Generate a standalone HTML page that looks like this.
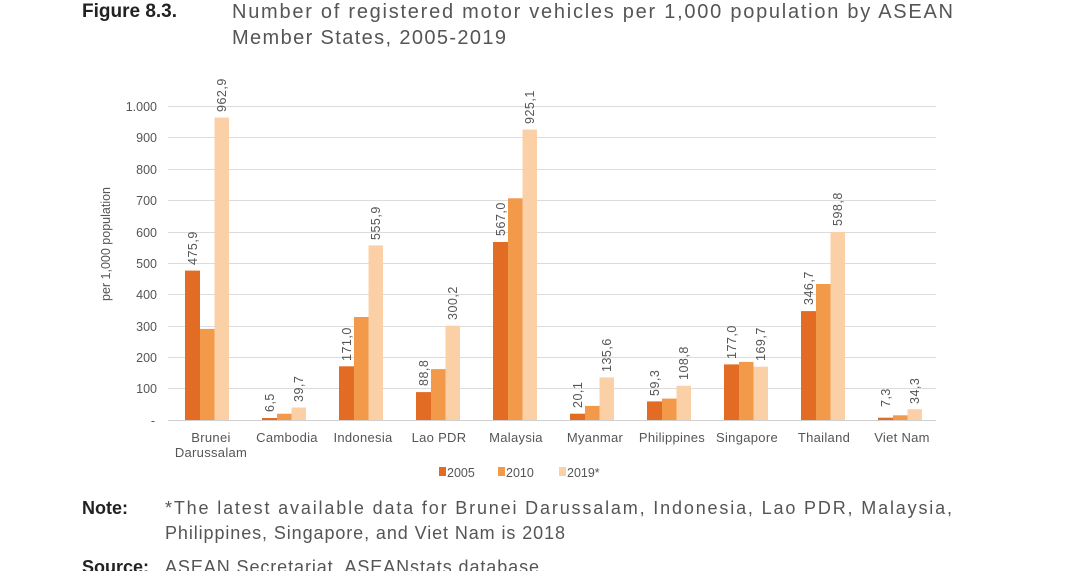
<!DOCTYPE html>
<html><head><meta charset="utf-8"><style>
body{margin:0;background:#fff;width:1065px;height:571px;overflow:hidden;font-family:"Liberation Sans",sans-serif}
svg text{font-family:"Liberation Sans",sans-serif}
</style></head><body>
<svg width="1065" height="571" viewBox="0 0 1065 571" xmlns="http://www.w3.org/2000/svg">
<text x="82" y="17" font-size="19" font-weight="bold" fill="#222">Figure 8.3.</text>
<text x="232" y="18" font-size="20" fill="#555" textLength="721" lengthAdjust="spacing">Number of registered motor vehicles per 1,000 population by ASEAN</text>
<text x="232" y="44" font-size="20" fill="#555" textLength="274" lengthAdjust="spacing">Member States, 2005-2019</text>
<g stroke="#dcdcdc" stroke-width="1">
<line x1="168" x2="936" y1="106.5" y2="106.5"/><line x1="168" x2="936" y1="137.5" y2="137.5"/>
<line x1="168" x2="936" y1="169.5" y2="169.5"/><line x1="168" x2="936" y1="200.5" y2="200.5"/>
<line x1="168" x2="936" y1="232.5" y2="232.5"/><line x1="168" x2="936" y1="263.5" y2="263.5"/>
<line x1="168" x2="936" y1="294.5" y2="294.5"/><line x1="168" x2="936" y1="326.5" y2="326.5"/>
<line x1="168" x2="936" y1="357.5" y2="357.5"/><line x1="168" x2="936" y1="388.5" y2="388.5"/>
<line x1="168" x2="936" y1="420.5" y2="420.5" stroke="#cfcfcf"/>
</g>
<g font-size="12.5" fill="#555" text-anchor="end">
<text x="157" y="111">1.000</text><text x="157" y="142">900</text><text x="157" y="174">800</text>
<text x="157" y="205">700</text><text x="157" y="237">600</text><text x="157" y="268">500</text>
<text x="157" y="299">400</text><text x="157" y="331">300</text><text x="157" y="362">200</text>
<text x="157" y="393">100</text><text x="155" y="425">-</text>
</g>
<text transform="translate(110,244) rotate(-90)" font-size="12.5" fill="#555" text-anchor="middle">per 1,000 population</text>
<g>
<rect x="185" y="270.6" width="15" height="149.4" fill="#E36C25"/><rect x="200" y="328.9" width="14.5" height="91.1" fill="#F39A4A"/><rect x="214.5" y="117.6" width="14.5" height="302.4" fill="#FBD0A6"/>
<rect x="262" y="418" width="15" height="2" fill="#E36C25"/><rect x="277" y="413.7" width="14.5" height="6.3" fill="#F39A4A"/><rect x="291.5" y="407.5" width="14.5" height="12.5" fill="#FBD0A6"/>
<rect x="339" y="366.3" width="15" height="53.7" fill="#E36C25"/><rect x="354" y="317" width="14.5" height="103" fill="#F39A4A"/><rect x="368.5" y="245.4" width="14.5" height="174.6" fill="#FBD0A6"/>
<rect x="416" y="392.1" width="15" height="27.9" fill="#E36C25"/><rect x="431" y="369.1" width="14.5" height="50.9" fill="#F39A4A"/><rect x="445.5" y="325.7" width="14.5" height="94.3" fill="#FBD0A6"/>
<rect x="493" y="242" width="15" height="178" fill="#E36C25"/><rect x="508" y="198.3" width="14.5" height="221.7" fill="#F39A4A"/><rect x="522.5" y="129.5" width="14.5" height="290.5" fill="#FBD0A6"/>
<rect x="570" y="413.7" width="15" height="6.3" fill="#E36C25"/><rect x="585" y="405.9" width="14.5" height="14.1" fill="#F39A4A"/><rect x="599.5" y="377.4" width="14.5" height="42.6" fill="#FBD0A6"/>
<rect x="647" y="401.4" width="15" height="18.6" fill="#E36C25"/><rect x="662" y="398.6" width="14.5" height="21.4" fill="#F39A4A"/><rect x="676.5" y="385.8" width="14.5" height="34.2" fill="#FBD0A6"/>
<rect x="724" y="364.4" width="15" height="55.6" fill="#E36C25"/><rect x="739" y="361.9" width="14.5" height="58.1" fill="#F39A4A"/><rect x="753.5" y="366.7" width="14.5" height="53.3" fill="#FBD0A6"/>
<rect x="801" y="311.1" width="15" height="108.9" fill="#E36C25"/><rect x="816" y="284" width="14.5" height="136" fill="#F39A4A"/><rect x="830.5" y="232" width="14.5" height="188" fill="#FBD0A6"/>
<rect x="878" y="417.7" width="15" height="2.3" fill="#E36C25"/><rect x="893" y="415.3" width="14.5" height="4.7" fill="#F39A4A"/><rect x="907.5" y="409.2" width="14.5" height="10.8" fill="#FBD0A6"/>
</g>
<g font-size="12.5" fill="#555" letter-spacing="0.5">
<text transform="translate(197,265) rotate(-90)">475,9</text>
<text transform="translate(226,112) rotate(-90)">962,9</text>
<text transform="translate(274,412) rotate(-90)">6,5</text>
<text transform="translate(303,402) rotate(-90)">39,7</text>
<text transform="translate(351,361) rotate(-90)">171,0</text>
<text transform="translate(380,240) rotate(-90)">555,9</text>
<text transform="translate(428,386) rotate(-90)">88,8</text>
<text transform="translate(457,320) rotate(-90)">300,2</text>
<text transform="translate(505,236) rotate(-90)">567,0</text>
<text transform="translate(534,124) rotate(-90)">925,1</text>
<text transform="translate(582,408) rotate(-90)">20,1</text>
<text transform="translate(611,372) rotate(-90)">135,6</text>
<text transform="translate(659,396) rotate(-90)">59,3</text>
<text transform="translate(688,380) rotate(-90)">108,8</text>
<text transform="translate(736,359) rotate(-90)">177,0</text>
<text transform="translate(765,361) rotate(-90)">169,7</text>
<text transform="translate(813,305) rotate(-90)">346,7</text>
<text transform="translate(842,226) rotate(-90)">598,8</text>
<text transform="translate(890,407) rotate(-90)">7,3</text>
<text transform="translate(919,404) rotate(-90)">34,3</text>
</g>
<g font-size="13" fill="#555" text-anchor="middle" letter-spacing="0.3">
<text x="211" y="442">Brunei</text><text x="211" y="457">Darussalam</text>
<text x="287" y="442">Cambodia</text><text x="363" y="442">Indonesia</text>
<text x="439" y="442">Lao PDR</text><text x="516" y="442">Malaysia</text>
<text x="595" y="442">Myanmar</text><text x="672" y="442">Philippines</text>
<text x="747" y="442">Singapore</text><text x="824" y="442">Thailand</text>
<text x="902" y="442">Viet Nam</text>
</g>
<g font-size="12.5" fill="#555">
<rect x="439" y="467" width="7" height="9" fill="#E36C25"/><text x="447" y="477">2005</text>
<rect x="498" y="467" width="7" height="9" fill="#F39A4A"/><text x="506" y="477">2010</text>
<rect x="559" y="467" width="7" height="9" fill="#FBD0A6"/><text x="567" y="477">2019*</text>
</g>
<text x="82" y="514" font-size="18" font-weight="bold" fill="#222">Note:</text>
<text x="165" y="514" font-size="18" fill="#555" textLength="787" lengthAdjust="spacing">*The latest available data for Brunei Darussalam, Indonesia, Lao PDR, Malaysia,</text>
<text x="165" y="539" font-size="18" fill="#555" textLength="400" lengthAdjust="spacing">Philippines, Singapore, and Viet Nam is 2018</text>
<text x="82" y="573" font-size="18" font-weight="bold" fill="#222">Source:</text>
<text x="165" y="573" font-size="18" fill="#555" textLength="374" lengthAdjust="spacing">ASEAN Secretariat, ASEANstats database</text>
</svg>
</body></html>
